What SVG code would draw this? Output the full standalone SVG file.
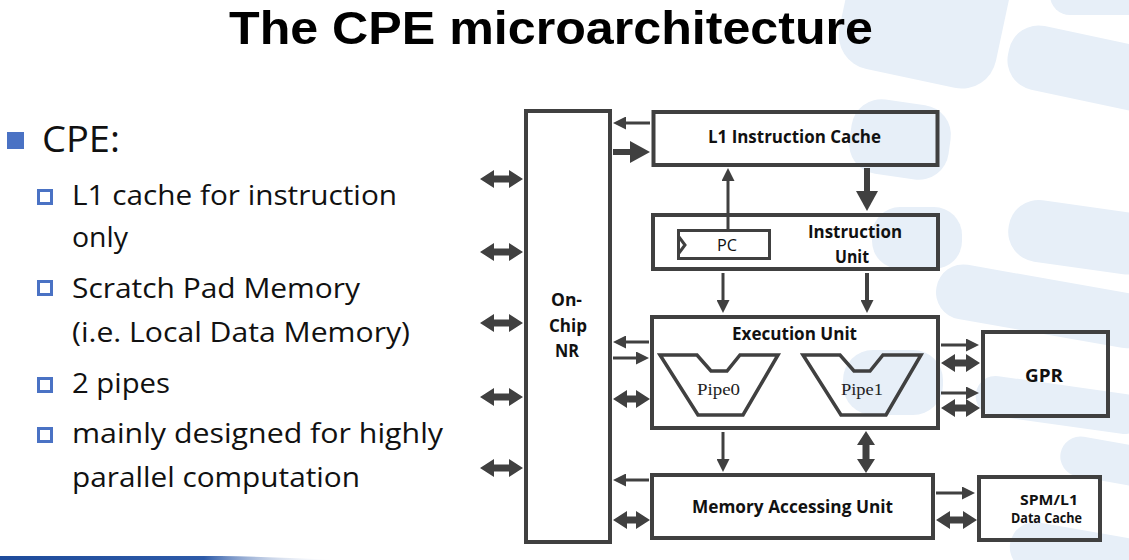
<svg xmlns="http://www.w3.org/2000/svg" width="1129" height="560" viewBox="0 0 1129 560">
<defs>
<style>
.box{fill:none;stroke:#404040;stroke-width:4}
.pcb{fill:none;stroke:#404040;stroke-width:3}
.pipe-shape{fill:none;stroke:#404040;stroke-width:3.5;stroke-linejoin:miter}
.ln{fill:none;stroke:#404040;stroke-width:3;marker-end:url(#ah)}
.lnT{fill:none;stroke:#404040;stroke-width:6;marker-end:url(#ahT)}
.dbl{fill:#404040}
.lbl{font-family:"Open Sans","Liberation Sans",sans-serif;font-weight:700;font-size:17px;fill:#111}
.reg{font-family:"Open Sans","Liberation Sans",sans-serif;font-weight:400;font-size:17px;fill:#111}
.pipe{font-family:"Liberation Serif",serif;font-size:17px;fill:#222}
.bul{font-family:"Open Sans","Noto Sans",sans-serif;font-size:28px;fill:#111}
.wm{fill:#e7eff8}
.sq{fill:none;stroke:#4a72c4;stroke-width:3}
</style>
<marker id="ah" markerUnits="userSpaceOnUse" markerWidth="13" markerHeight="13" refX="9" refY="6.5" orient="auto"><path d="M0,0 L13,6.5 L0,13 z" fill="#404040"/></marker>
<marker id="ahT" markerUnits="userSpaceOnUse" markerWidth="20" markerHeight="22" refX="14" refY="11" orient="auto"><path d="M0,0 L20,11 L0,22 z" fill="#404040"/></marker>
<linearGradient id="band" x1="0" y1="0" x2="1" y2="0">
<stop offset="0" stop-color="#1e4b9b"/>
<stop offset="0.6" stop-color="#2d5aa8"/>
<stop offset="1" stop-color="#ffffff" stop-opacity="0"/>
</linearGradient>
</defs>

<g id="watermark">
<rect class="wm" x="845" y="-60" width="160" height="140" rx="35" transform="rotate(12 925 10)"/>
<rect class="wm" x="1008" y="30" width="160" height="65" rx="30" transform="rotate(12 1060 60)"/>
<rect class="wm" x="1050" y="-30" width="100" height="45" rx="20"/>
<rect class="wm" x="850" y="102" width="100" height="75" rx="30" transform="rotate(8 900 140)"/>
<rect class="wm" x="872" y="207" width="90" height="62" rx="28"/>
<rect class="wm" x="1008" y="203" width="150" height="62" rx="30" transform="rotate(8 1060 235)"/>
<rect class="wm" x="935" y="278" width="220" height="55" rx="27" transform="rotate(10 1040 305)"/>
<rect class="wm" x="843" y="350" width="100" height="65" rx="30"/>
<rect class="wm" x="975" y="385" width="170" height="40" rx="20" transform="rotate(8 1060 405)"/>
<rect class="wm" x="1060" y="440" width="100" height="40" rx="20" transform="rotate(10 1100 460)"/>
<rect class="wm" x="1010" y="530" width="140" height="50" rx="25" transform="rotate(10 1080 550)"/>
</g>

<path d="M0,556 L220,556 Q280,557 340,560 L0,560 Z" fill="url(#band)"/>

<text x="229" y="44" textLength="644" lengthAdjust="spacingAndGlyphs" style="font-family:'Liberation Sans','Open Sans',sans-serif;font-weight:700;font-size:47px;fill:#000">The CPE microarchitecture</text>

<g id="bullets">
<rect x="7" y="132" width="17" height="17" fill="#4a72c4"/>
<text class="bul" x="42" y="152" style="font-size:37px" textLength="78" lengthAdjust="spacingAndGlyphs">CPE:</text>
<rect class="sq" x="38.5" y="190.5" width="13" height="13"/>
<text class="bul" x="72" y="205" textLength="325" lengthAdjust="spacingAndGlyphs">L1 cache for instruction</text>
<text class="bul" x="72" y="247" textLength="56" lengthAdjust="spacingAndGlyphs">only</text>
<rect class="sq" x="38.5" y="281.5" width="13" height="13"/>
<text class="bul" x="72" y="298" textLength="288" lengthAdjust="spacingAndGlyphs">Scratch Pad Memory</text>
<text class="bul" x="72" y="342" textLength="338" lengthAdjust="spacingAndGlyphs">(i.e. Local Data Memory)</text>
<rect class="sq" x="38.5" y="378.5" width="13" height="13"/>
<text class="bul" x="72" y="393" textLength="98" lengthAdjust="spacingAndGlyphs">2 pipes</text>
<rect class="sq" x="38.5" y="428.5" width="13" height="13"/>
<text class="bul" x="72" y="443" textLength="371" lengthAdjust="spacingAndGlyphs">mainly designed for highly</text>
<text class="bul" x="72" y="487" textLength="288" lengthAdjust="spacingAndGlyphs">parallel computation</text>
</g>

<g id="connectors">
<path class="ln" d="M650,123 H617"/>
<path class="lnT" d="M613,152 H644"/>
<path class="ln" d="M728,229 V172"/>
<path class="lnT" d="M867,168 V205"/>
<path class="ln" d="M723,273 V309"/>
<path class="ln" d="M867,273 V309" style="stroke-width:4"/>
<path class="ln" d="M649,342 H617"/>
<path class="ln" d="M613,358 H645"/>
<path class="ln" d="M649,480 H617"/>
<path class="ln" d="M941,345 H975"/>
<path class="ln" d="M941,393 H975"/>
<path class="ln" d="M723,432 V468"/>
<path class="ln" d="M936,493 H971"/>
<path class="dbl" d="M480,179 L494,170 L494,175.5 L509,175.5 L509,170 L523,179 L509,188 L509,182.5 L494,182.5 L494,188 Z"/>
<path class="dbl" d="M480,252 L494,243 L494,248.5 L509,248.5 L509,243 L523,252 L509,261 L509,255.5 L494,255.5 L494,261 Z"/>
<path class="dbl" d="M480,323 L494,314 L494,319.5 L509,319.5 L509,314 L523,323 L509,332 L509,326.5 L494,326.5 L494,332 Z"/>
<path class="dbl" d="M480,397 L494,388 L494,393.5 L509,393.5 L509,388 L523,397 L509,406 L509,400.5 L494,400.5 L494,406 Z"/>
<path class="dbl" d="M480,468 L494,459 L494,464.5 L509,464.5 L509,459 L523,468 L509,477 L509,471.5 L494,471.5 L494,477 Z"/>
<path class="dbl" d="M613,399 L627,390 L627,395.5 L636,395.5 L636,390 L650,399 L636,408 L636,402.5 L627,402.5 L627,408 Z"/>
<path class="dbl" d="M613,520 L627,511 L627,516.5 L636,516.5 L636,511 L650,520 L636,529 L636,523.5 L627,523.5 L627,529 Z"/>
<path class="dbl" d="M941,363 L955,354 L955,359.5 L966,359.5 L966,354 L980,363 L966,372 L966,366.5 L955,366.5 L955,372 Z"/>
<path class="dbl" d="M941,408 L955,399 L955,404.5 L966,404.5 L966,399 L980,408 L966,417 L966,411.5 L955,411.5 L955,417 Z"/>
<path class="dbl" d="M936,520 L950,511 L950,516.5 L963,516.5 L963,511 L977,520 L963,529 L963,523.5 L950,523.5 L950,529 Z"/>
<path class="dbl" d="M866,431 L875,445 L869.5,445 L869.5,459 L875,459 L866,473 L857,459 L862.5,459 L862.5,445 L857,445 Z"/>
</g>

<g id="nr">
<rect class="box" x="526" y="111" width="84" height="431"/>
<text class="lbl" x="551" y="306" textLength="31" lengthAdjust="spacingAndGlyphs">On-</text>
<text class="lbl" x="549" y="332" textLength="38" lengthAdjust="spacingAndGlyphs">Chip</text>
<text class="lbl" x="555" y="357" textLength="24" lengthAdjust="spacingAndGlyphs">NR</text>
</g>

<g id="l1icache">
<rect class="box" x="653.5" y="112" width="284" height="53"/>
<text class="lbl" x="708" y="143" textLength="173" lengthAdjust="spacingAndGlyphs">L1 Instruction Cache</text>
</g>

<g id="iunit">
<rect class="box" x="653" y="215" width="285" height="54"/>
<text class="lbl" x="808" y="238" textLength="94" lengthAdjust="spacingAndGlyphs">Instruction</text>
<text class="lbl" x="835" y="263" textLength="34" lengthAdjust="spacingAndGlyphs">Unit</text>
</g>

<g id="pc">
<rect class="pcb" x="678.5" y="230.5" width="91" height="28"/>
<polyline class="pcb" points="679,237 685,245 679,253"/>
<text class="reg" x="717" y="251" textLength="20" lengthAdjust="spacingAndGlyphs">PC</text>
</g>

<g id="eunit">
<rect class="box" x="652" y="317" width="286" height="111"/>
<text class="lbl" x="732" y="340" textLength="125" lengthAdjust="spacingAndGlyphs">Execution Unit</text>
</g>

<g id="pipe0">
<polygon class="pipe-shape" points="660,355 697,355 711,371 727,371 740,355 778,355 743,415 698,415"/>
<text class="pipe" x="697" y="395" textLength="43" lengthAdjust="spacingAndGlyphs">Pipe0</text>
</g>

<g id="pipe1">
<polygon class="pipe-shape" points="803,355 840,355 854,371 870,371 883,355 921,355 886,415 841,415"/>
<text class="pipe" x="841" y="395" textLength="42" lengthAdjust="spacingAndGlyphs">Pipe1</text>
</g>

<g id="gpr">
<rect class="box" x="983" y="332" width="125" height="84"/>
<text class="lbl" x="1025" y="382" style="font-size:18px" textLength="38" lengthAdjust="spacingAndGlyphs">GPR</text>
</g>

<g id="mau">
<rect class="box" x="652" y="475" width="281" height="63"/>
<text class="lbl" x="692" y="513" textLength="201" lengthAdjust="spacingAndGlyphs">Memory Accessing Unit</text>
</g>

<g id="spm">
<rect class="box" x="979" y="477" width="121" height="63"/>
<text class="lbl" x="1020" y="505" style="font-size:14px" textLength="58" lengthAdjust="spacingAndGlyphs">SPM/L1</text>
<text class="lbl" x="1011" y="523" style="font-size:14px" textLength="71" lengthAdjust="spacingAndGlyphs">Data Cache</text>
</g>
</svg>
